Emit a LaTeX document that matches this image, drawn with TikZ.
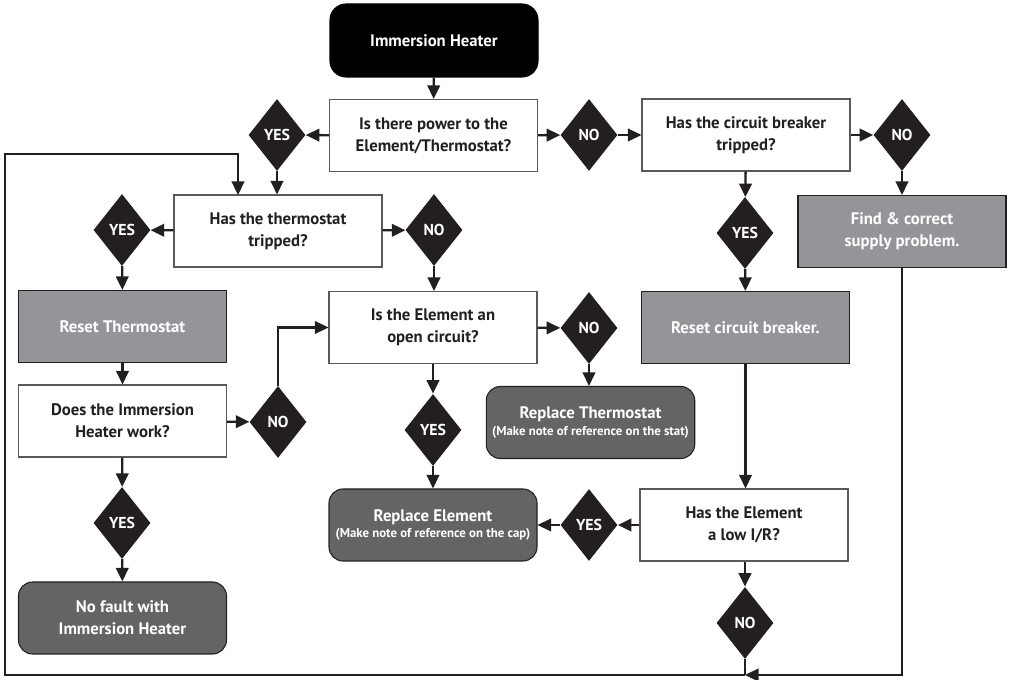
\documentclass[tikz,border=0pt]{standalone}
\usepackage{fontspec}
\setmainfont{PT Sans}
\usetikzlibrary{shapes.geometric, arrows.meta}

\definecolor{ink}{HTML}{231F20}
\definecolor{edge}{HTML}{58595B}
\definecolor{lightbox}{HTML}{939598}
\definecolor{darkbox}{HTML}{636466}

\newcommand{\smallnote}{\bfseries\fontsize{7.3}{8.5}\selectfont}

\tikzset{
  question/.style={draw=edge, line width=0.6pt, fill=white, minimum width=4.16cm, minimum height=1.44cm,
    align=center, text=ink, font=\bfseries\fontsize{9.5}{12.5}\selectfont},
  action/.style={question, draw=ink, fill=lightbox, text=white},
  result/.style={question, draw=ink, fill=darkbox, text=white, rounded corners=0.28cm},
  answer/.style={diamond, fill=ink, text=white, inner sep=0pt, minimum width=1.14cm, minimum height=1.44cm,
    font=\bfseries\fontsize{9}{10}\selectfont},
  wire/.style={draw=ink, line width=1.3pt},
  flow/.style={wire, -{Triangle[length=0.27cm,width=0.25cm]}}
}

\begin{document}
\begin{tikzpicture}
	\useasboundingbox (0,0) rectangle (20.22,-13.6);

	% Start
	\node[result, fill=black, draw=black, rounded corners=0.32cm, minimum height=1.46cm] (start) at (8.68,-0.81) {Immersion Heater};

	% Questions and actions
	\node[question] (power) at (8.67,-2.71) {Is there power to the\\Element/Thermostat?};
	\node[question] (breaker) at (14.92,-2.70) {Has the circuit breaker\\tripped?};
	\node[action] (supply) at (18.04,-4.63) {Find \& correct\\supply problem.};
	\node[question] (thermo) at (5.56,-4.62) {Has the thermostat\\tripped?};
	\node[action] (resetstat) at (2.45,-6.53) {Reset Thermostat};
	\node[question] (works) at (2.45,-8.42) {Does the Immersion\\Heater work?};
	\node[question] (opencct) at (8.66,-6.55) {Is the Element an\\open circuit?};
	\node[result] (replstat) at (11.81,-8.45) {Replace Thermostat\\[-3pt]{\smallnote (Make note of reference on the stat)}};
	\node[action] (resetcb) at (14.91,-6.55) {Reset circuit breaker.};
	\node[question] (lowir) at (14.88,-10.50) {Has the Element\\a low I/R?};
	\node[result] (replelem) at (8.66,-10.50) {Replace Element\\[-3pt]{\smallnote (Make note of reference on the cap)}};
	\node[result] (nofault) at (2.45,-12.36) {No fault with\\Immersion Heater};

	% Answers
	\node[answer] (yespower) at (5.54,-2.70) {YES};
	\node[answer] (nopower) at (11.78,-2.70) {NO};
	\node[answer] (nobreaker) at (18.04,-2.70) {NO};
	\node[answer] (yesbreaker) at (14.90,-4.66) {YES};
	\node[answer] (yesthermo) at (2.44,-4.60) {YES};
	\node[answer] (nothermo) at (8.68,-4.60) {NO};
	\node[answer] (noworks) at (5.56,-8.44) {NO};
	\node[answer] (yesworks) at (2.44,-10.46) {YES};
	\node[answer] (noopen) at (11.78,-6.56) {NO};
	\node[answer] (yesopen) at (8.66,-8.60) {YES};
	\node[answer] (yeslowir) at (11.78,-10.50) {YES};
	\node[answer] (nolowir) at (14.90,-12.46) {NO};

	% Arrows
	\draw[flow] (start) -- (power);
	\draw[flow] (power) -- (yespower);
	\draw[flow] (yespower) -- (yespower |- thermo.north);
	\draw[flow] (power) -- (nopower);
	\draw[flow] (nopower) -- (breaker);
	\draw[flow] (breaker) -- (nobreaker);
	\draw[flow] (nobreaker) -- (supply);
	\draw[flow] (breaker) -- (yesbreaker);
	\draw[flow] (yesbreaker) -- (resetcb);
	\draw[flow] (resetcb) -- (resetcb |- lowir.north);
	\draw[flow] (lowir) -- (yeslowir);
	\draw[flow] (yeslowir) -- (replelem);
	\draw[flow] (lowir.south -| nolowir) -- (nolowir);
	\draw[flow] (thermo) -- (yesthermo);
	\draw[flow] (yesthermo) -- (resetstat);
	\draw[flow] (thermo) -- (nothermo);
	\draw[flow] (nothermo) -- (nothermo |- opencct.north);
	\draw[flow] (resetstat) -- (works);
	\draw[flow] (works) -- (noworks);
	\draw[flow] (noworks.north) |- (opencct.west);
	\draw[flow] (works) -- (yesworks);
	\draw[flow] (yesworks) -- (nofault);
	\draw[flow] (opencct) -- (noopen);
	\draw[flow] (noopen) -- (noopen |- replstat.north);
	\draw[flow] (opencct) -- (yesopen);
	\draw[flow] (yesopen) -- (replelem);

	% Loop back round the chart
	\coordinate (loopjoin) at (14.90,-13.50);
	\coordinate (loopcorner) at (0.10,-13.50);
	\coordinate (looptop) at (0.10,-3.08);
	\coordinate (loopdrop) at (4.76,-3.90);
	\draw[wire] (nolowir.south) -- (loopjoin);
	\draw[flow] (supply.south) |- (loopjoin);
	\draw[flow] (loopjoin) -- (loopcorner) -- (looptop) -| (loopdrop);
\end{tikzpicture}
\end{document}
